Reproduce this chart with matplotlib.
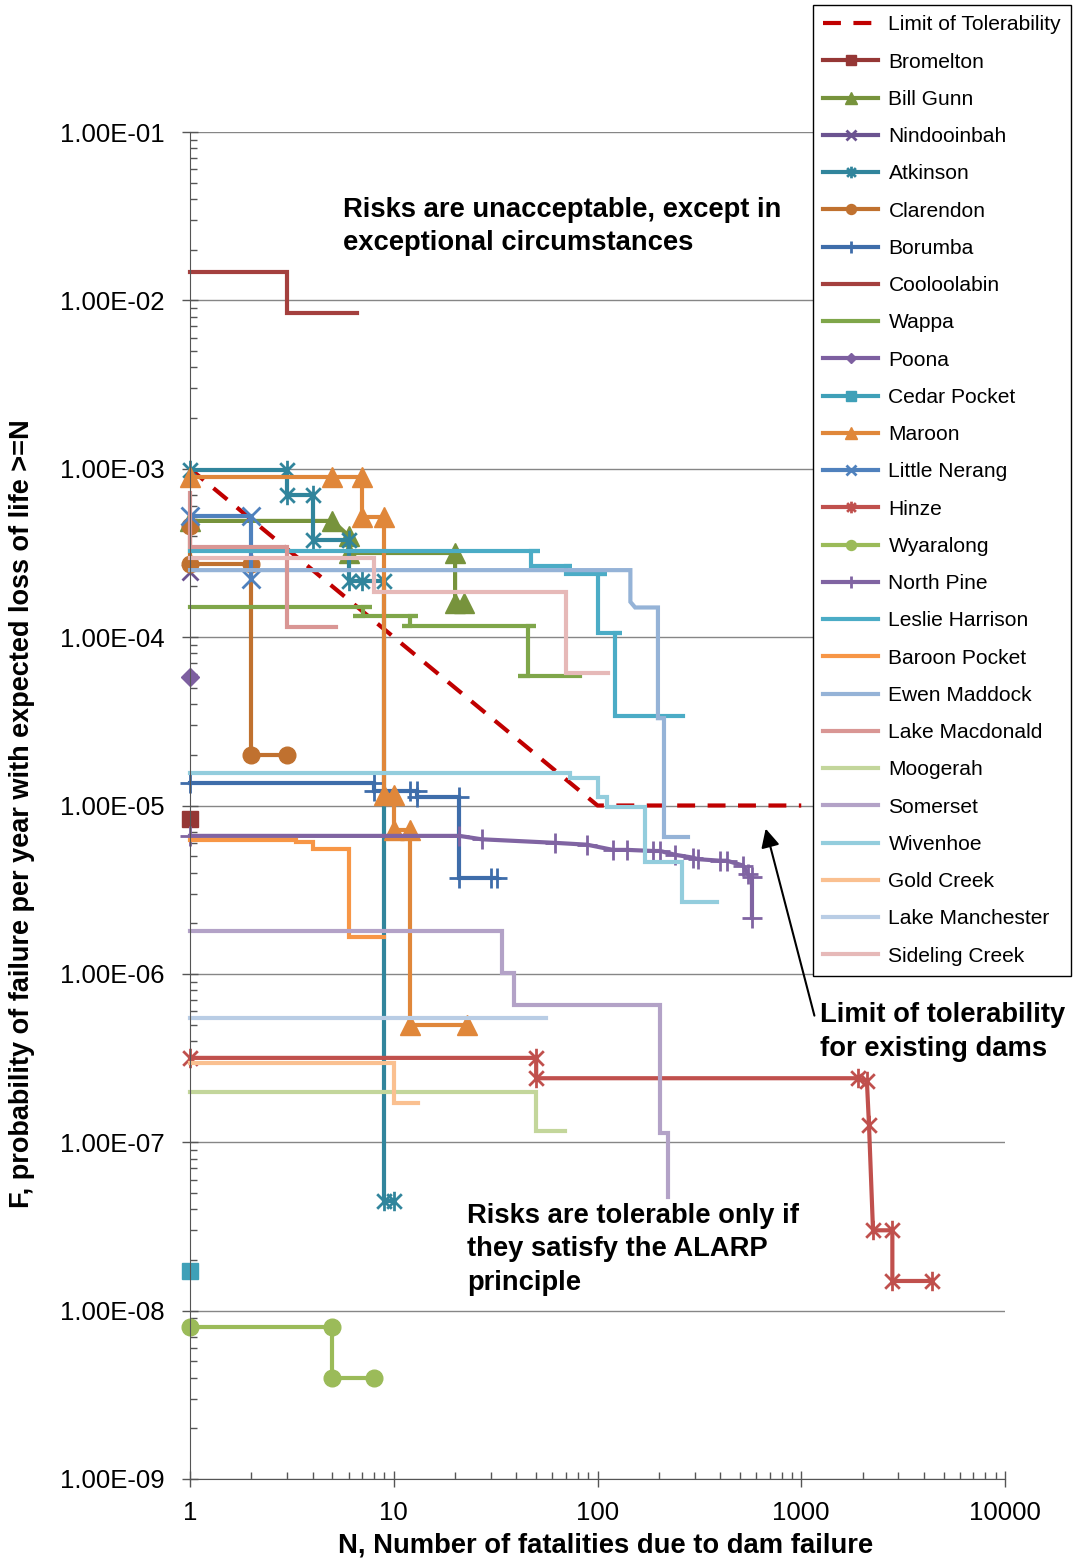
import numpy as np
import matplotlib
matplotlib.use("Agg")
import matplotlib.pyplot as plt
from matplotlib.path import Path
from matplotlib.ticker import LogLocator, FuncFormatter, NullFormatter

plt.rcParams['font.family'] = ['Liberation Sans', 'DejaVu Sans']

# ---- data (N fatalities, F per year) ----
limit_n = [1, 100, 1000]
limit_f = [1e-3, 1e-5, 1e-5]

bromelton_n = [1]
bromelton_f = [8.3e-6]

bill_gunn_n = [1, 5, 6, 6, 20, 20, 22]
bill_gunn_f = [4.9e-4, 4.9e-4, 4.0e-4, 3.16e-4, 3.16e-4, 1.6e-4, 1.6e-4]

nindooinbah_n = [1]
nindooinbah_f = [2.45e-4]

atkinson_n = [1, 3, 3, 4, 4, 6, 6, 7, 9, 9, 10]
atkinson_f = [9.8e-4, 9.8e-4, 7.0e-4, 7.0e-4, 3.8e-4, 3.8e-4, 2.15e-4, 2.15e-4, 2.15e-4, 4.5e-8, 4.5e-8]

clarendon_n = [1, 1, 2, 2, 3]
clarendon_f = [4.6e-4, 2.7e-4, 2.7e-4, 2.0e-5, 2.0e-5]

borumba_n = [1, 8, 8, 12, 13, 13, 21, 21, 30, 32]
borumba_f = [1.36e-5, 1.36e-5, 1.22e-5, 1.22e-5, 1.22e-5, 1.13e-5, 1.13e-5, 3.7e-6, 3.7e-6, 3.7e-6]

cooloolabin_n = [1, 3, 3, 6.6]
cooloolabin_f = [1.47e-2, 1.47e-2, 8.4e-3, 8.4e-3]

wappa_n = [1, 7.8, 7.1, 7.1, 6.3, 13.2, 12, 12, 11, 50, 45.6, 45.6, 40.7, 82]
wappa_f = [1.51e-4, 1.51e-4, 1.51e-4, 1.34e-4, 1.34e-4, 1.34e-4, 1.34e-4,
           1.16e-4, 1.16e-4, 1.16e-4, 1.16e-4, 5.9e-5, 5.9e-5, 5.9e-5]

poona_n = [1]
poona_f = [5.8e-5]

cedar_pocket_n = [1]
cedar_pocket_f = [1.72e-8]

maroon_n = [1, 5, 7, 7, 9, 9, 10, 10, 12, 12, 23]
maroon_f = [8.9e-4, 8.9e-4, 8.9e-4, 5.2e-4, 5.2e-4, 1.16e-5, 1.16e-5, 7.2e-6, 7.2e-6, 5.0e-7, 5.0e-7]

little_nerang_n = [1, 2, 2]
little_nerang_f = [5.25e-4, 5.25e-4, 2.2e-4]

hinze_n = [1, 50, 50, 1900, 2100, 2150, 2250, 2800, 2800, 4400]
hinze_f = [3.17e-7, 3.17e-7, 2.4e-7, 2.4e-7, 2.3e-7, 1.27e-7, 3.0e-8, 3.0e-8, 1.5e-8, 1.5e-8]

wyaralong_n = [1, 5, 5, 8]
wyaralong_f = [8e-9, 8e-9, 4e-9, 4e-9]

north_pine_n = [1, 21, 27, 62, 89, 119, 140, 187, 203, 240, 294, 311, 399, 432, 518, 548, 573, 573]
north_pine_f = [6.6e-6, 6.6e-6, 6.3e-6, 6.0e-6, 5.85e-6, 5.45e-6, 5.45e-6, 5.37e-6, 5.37e-6,
                5.1e-6, 4.9e-6, 4.8e-6, 4.7e-6, 4.7e-6, 4.4e-6, 3.9e-6, 3.77e-6, 2.15e-6]

leslie_harrison_n = [1, 52, 47, 47, 75, 70, 70, 111, 100, 100, 132, 122, 122, 263]
leslie_harrison_f = [3.25e-4, 3.25e-4, 3.25e-4, 2.65e-4, 2.65e-4, 2.65e-4, 2.36e-4,
                     2.36e-4, 2.36e-4, 1.06e-4, 1.06e-4, 1.06e-4, 3.4e-5, 3.4e-5]

baroon_pocket_n = [1, 3.3, 3.3, 4, 4, 6, 6, 9]
baroon_pocket_f = [6.25e-6, 6.25e-6, 6.1e-6, 6.1e-6, 5.5e-6, 5.5e-6, 1.66e-6, 1.66e-6]

ewen_maddock_n = [1, 145, 145, 153, 198, 198, 212, 212, 278]
ewen_maddock_f = [2.5e-4, 2.5e-4, 1.62e-4, 1.5e-4, 1.5e-4, 3.3e-5, 3.3e-5, 6.5e-6, 6.5e-6]

lake_macdonald_n = [1, 1, 3, 3, 5.2]
lake_macdonald_f = [7.2e-4, 3.45e-4, 3.45e-4, 1.15e-4, 1.15e-4]

moogerah_n = [1, 50, 50, 69]
moogerah_f = [2.0e-7, 2.0e-7, 1.17e-7, 1.17e-7]

somerset_n = [1, 34, 34, 39, 39, 203, 203, 222, 222]
somerset_f = [1.8e-6, 1.8e-6, 1.01e-6, 1.01e-6, 6.55e-7, 6.55e-7, 1.14e-7, 1.14e-7, 4.7e-8]

wivenhoe_n = [1, 73, 73, 100, 100, 111, 111, 171, 171, 260, 260, 386]
wivenhoe_f = [1.56e-5, 1.56e-5, 1.46e-5, 1.46e-5, 1.12e-5, 1.12e-5, 9.8e-6, 9.8e-6,
              4.62e-6, 4.62e-6, 2.68e-6, 2.68e-6]

gold_creek_n = [1, 10, 10, 13.2]
gold_creek_f = [2.96e-7, 2.96e-7, 1.71e-7, 1.71e-7]

lake_manchester_n = [1, 56]
lake_manchester_f = [5.5e-7, 5.5e-7]

sideling_creek_n = [1, 8, 8, 70, 70, 112]
sideling_creek_f = [2.95e-4, 2.95e-4, 1.85e-4, 1.85e-4, 6.1e-5, 6.1e-5]

# Excel style star marker (x with a vertical bar)
star = Path([(0, -1), (0, 1), (-0.75, -0.75), (0.75, 0.75), (-0.75, 0.75), (0.75, -0.75)],
            [Path.MOVETO, Path.LINETO, Path.MOVETO, Path.LINETO, Path.MOVETO, Path.LINETO])

# name, n, f, colour, marker, markersize
series = [
    ("Bromelton", bromelton_n, bromelton_f, "#953735", "s", 12),
    ("Bill Gunn", bill_gunn_n, bill_gunn_f, "#77933C", "^", 14),
    ("Nindooinbah", nindooinbah_n, nindooinbah_f, "#6B5390", "x", 12),
    ("Atkinson", atkinson_n, atkinson_f, "#31859C", star, 14),
    ("Clarendon", clarendon_n, clarendon_f, "#C0712F", "o", 12),
    ("Borumba", borumba_n, borumba_f, "#3E6DAA", "+", 14),
    ("Cooloolabin", cooloolabin_n, cooloolabin_f, "#A4403E", None, 0),
    ("Wappa", wappa_n, wappa_f, "#7FA64A", None, 0),
    ("Poona", poona_n, poona_f, "#7D5FA0", "D", 9),
    ("Cedar Pocket", cedar_pocket_n, cedar_pocket_f, "#3FA0B8", "s", 11),
    ("Maroon", maroon_n, maroon_f, "#E0873A", "^", 14),
    ("Little Nerang", little_nerang_n, little_nerang_f, "#4F81BD", "x", 13),
    ("Hinze", hinze_n, hinze_f, "#C0504D", star, 14),
    ("Wyaralong", wyaralong_n, wyaralong_f, "#9BBB59", "o", 12),
    ("North Pine", north_pine_n, north_pine_f, "#8064A2", "+", 14),
    ("Leslie Harrison", leslie_harrison_n, leslie_harrison_f, "#4BACC6", None, 0),
    ("Baroon Pocket", baroon_pocket_n, baroon_pocket_f, "#F79646", None, 0),
    ("Ewen Maddock", ewen_maddock_n, ewen_maddock_f, "#95B3D7", None, 0),
    ("Lake Macdonald", lake_macdonald_n, lake_macdonald_f, "#D99694", None, 0),
    ("Moogerah", moogerah_n, moogerah_f, "#C3D69B", None, 0),
    ("Somerset", somerset_n, somerset_f, "#B3A2C7", None, 0),
    ("Wivenhoe", wivenhoe_n, wivenhoe_f, "#93CDDD", None, 0),
    ("Gold Creek", gold_creek_n, gold_creek_f, "#FAC090", None, 0),
    ("Lake Manchester", lake_manchester_n, lake_manchester_f, "#B9CDE5", None, 0),
    ("Sideling Creek", sideling_creek_n, sideling_creek_f, "#E6B9B8", None, 0),
]

fig = plt.figure(figsize=(10.78, 15.58), dpi=100)
ax = fig.add_axes([190 / 1078, 1 - 1479 / 1558, 815 / 1078, 1347 / 1558])

ax.plot(limit_n, limit_f, color="#C00000", lw=3, dashes=(4.3, 3.0),
        label="Limit of Tolerability", clip_on=False)

for name, n, f, col, mk, ms in series:
    line_markers = mk in ("x", "+") or mk is star
    ax.plot(n, f, color=col, lw=3, marker=mk, markersize=ms,
            markerfacecolor=("none" if line_markers else col),
            markeredgecolor=col, markeredgewidth=(2 if line_markers else 1),
            label=name, clip_on=False, solid_joinstyle="miter")

ax.set_xscale("log")
ax.set_yscale("log")
ax.set_xlim(1, 10000)
ax.set_ylim(1e-9, 1e-1)

ax.yaxis.set_major_locator(LogLocator(base=10, numticks=20))
ax.yaxis.set_minor_locator(LogLocator(base=10, subs=np.arange(2, 10), numticks=20))
ax.yaxis.set_major_formatter(FuncFormatter(lambda v, p: f"{v:.2E}"))
ax.yaxis.set_minor_formatter(NullFormatter())
ax.xaxis.set_major_locator(LogLocator(base=10, numticks=10))
ax.xaxis.set_minor_locator(LogLocator(base=10, subs=np.arange(2, 10), numticks=10))
ax.xaxis.set_major_formatter(FuncFormatter(lambda v, p: f"{int(round(v))}"))
ax.xaxis.set_minor_formatter(NullFormatter())

ax.tick_params(which="major", direction="inout", length=12, width=1, color="#555555",
               labelsize=18.5)
ax.tick_params(axis="y", which="major", pad=12)
ax.tick_params(axis="x", which="major", pad=10)
ax.tick_params(which="minor", direction="in", length=5, width=1, color="#555555")

ax.grid(True, axis="y", which="major", color="#868686", lw=1)
ax.set_axisbelow(True)
for s in ("top", "right"):
    ax.spines[s].set_visible(False)
for s in ("left", "bottom"):
    ax.spines[s].set_color("#555555")

ax.set_xlabel("N, Number of fatalities due to dam failure", fontsize=19.7, fontweight="bold")
ax.set_ylabel("F, probability of failure per year with expected loss of life >=N",
              fontsize=19.5, fontweight="bold")
ax.xaxis.set_label_coords(0.51, -0.040)
ax.yaxis.set_label_coords(-0.19, 0.494)

ax.text(0.1877, 0.952, "Risks are unacceptable, except in\nexceptional circumstances",
        transform=ax.transAxes, fontsize=19.7, fontweight="bold", va="top", ha="left",
        linespacing=1.38)
ax.text(0.340, 0.205, "Risks are tolerable only if\nthey satisfy the ALARP\nprinciple",
        transform=ax.transAxes, fontsize=19.7, fontweight="bold", va="top", ha="left",
        linespacing=1.38)
ax.text(0.773, 0.354, "Limit of tolerability\nfor existing dams",
        transform=ax.transAxes, fontsize=19.7, fontweight="bold", va="top", ha="left",
        linespacing=1.38)
ax.annotate("", xy=(0.7055, 0.4848), xycoords="axes fraction",
            xytext=(0.767, 0.342), textcoords="axes fraction",
            arrowprops=dict(arrowstyle="-|>", color="black", lw=1.5, mutation_scale=28))

leg = ax.legend(loc="upper left", bbox_to_anchor=(813 / 1078, 1 - 5 / 1558),
                bbox_transform=fig.transFigure, fontsize=15.1, frameon=True,
                fancybox=False, framealpha=1, edgecolor="black", borderaxespad=0,
                handlelength=2.6, handletextpad=0.5, labelspacing=0.87,
                markerscale=0.6, borderpad=0.5)
leg.get_frame().set_linewidth(1)

fig.savefig("out.png", dpi=100)
